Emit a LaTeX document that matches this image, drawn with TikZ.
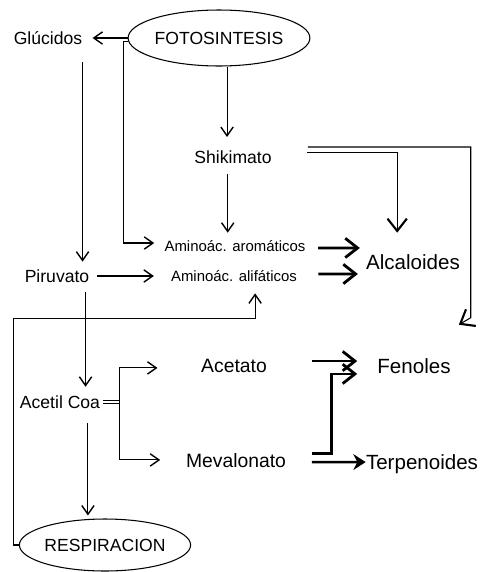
\documentclass[tikz,border=0pt]{standalone}
\usepackage{fontspec}
\setmainfont{Liberation Sans}
\usetikzlibrary{arrows.meta,shapes.geometric}

\begin{document}
\begin{tikzpicture}[x=0.02cm,y=-0.02cm,
    txt/.style={inner sep=0pt,font=\fontsize{10}{12}\selectfont},
    sml/.style={inner sep=0pt,font=\fontsize{8.5}{10}\selectfont},
    mid/.style={inner sep=0pt,font=\fontsize{11}{13}\selectfont},
    big/.style={inner sep=0pt,font=\fontsize{11.7}{14}\selectfont},
    oval/.style={draw,ellipse,inner sep=0pt,line width=0.6pt,font=\fontsize{10}{12}\selectfont},
    ln/.style={line width=0.6pt},
    ar/.style={ln,-{Straight Barb[length=5pt,width=7pt,line width=0.8pt]}},
    arr/.style={ln,{Straight Barb[length=5pt,width=7pt,line width=0.8pt]}-{Straight Barb[length=5pt,width=7pt,line width=0.8pt]}},
    bigar/.style={ln,-{Straight Barb[length=7pt,width=11pt,line width=1.2pt]}},
    thk/.style={line width=1.6pt,-{Straight Barb[length=7pt,width=11pt]}}]
   \useasboundingbox (0,0) rectangle (480,572);
   \node[oval,minimum width=2.76cm,minimum height=1.12cm] (fot) at (219,38) {FOTOSINTESIS};
   \node[txt] (glu) at (48,38) {Glúcidos};
   \node[txt] (shi) at (233,157) {Shikimato};
   \node[sml] (aro) at (235,246) {Aminoác. aromáticos};
   \node[sml] (ali) at (234,276) {Aminoác. alifáticos};
   \node[big] (alc) at (413,262) {Alcaloides};
   \node[txt] (pir) at (57,276) {Piruvato};
   \node[txt] (ace) at (60,402) {Acetil Coa};
   \node[mid] (act) at (234,366) {Acetato};
   \node[big] (fen) at (414,366) {Fenoles};
   \node[mid] (mev) at (236,461) {Mevalonato};
   \node[big] (ter) at (422,464) {Terpenoides};
   \node[oval,minimum width=2.7cm,minimum height=1.04cm] (res) at (105,545) {RESPIRACION};

   \draw[ar] (fot.west) -- ([xshift=5.7pt]glu.east);
   \draw[ar] ([yshift=-2pt]fot.west) -| ([xshift=-23pt,yshift=1.7pt]aro.west) -- ([xshift=-5.7pt,yshift=1.7pt]aro.west);
   \draw[ar] ([yshift=-10pt]glu.south east) -- ([yshift=4.3pt]pir.north -| glu.east);
   \draw[ar] ([xshift=-3.4pt]fot.south -| shi.north) -- ([xshift=-3.4pt,yshift=7.5pt]shi.north);
   \draw[ar] ([xshift=-3pt,yshift=-6pt]shi.south) -- ([xshift=-3pt,yshift=4.2pt]aro.north -| shi.south);
   \draw[bigar] ([xshift=20pt,yshift=2.3pt]shi.east) -| ([xshift=-9pt,yshift=12.2pt]alc.north);
   \draw[bigar] ([xshift=20.4pt,yshift=5.7pt]shi.east) -| ([xshift=11.3pt,yshift=23pt]fen.north east) -- ([xshift=4.5pt,yshift=19pt]fen.north east);
   \draw[thk] ([xshift=7pt,yshift=-1.1pt]aro.east) -- ([xshift=-3.4pt,yshift=8pt]alc.west);
   \draw[thk] ([xshift=12pt,yshift=1.1pt]ali.east) -- ([xshift=-4.5pt,yshift=-6.8pt]alc.west);
   \draw[ar] ([xshift=4.5pt]pir.east) -- ([xshift=-9.6pt]ali.west);
   \draw[ar] ([xshift=-2.3pt,yshift=-5.4pt]pir.south east) -- ([xshift=-2.3pt,yshift=4.8pt]ace.north -| pir.east);
   \draw[ar] ([xshift=15.9pt,yshift=-8.2pt]ace.south) -- ([xshift=15.9pt,yshift=1.7pt]ace.south |- res.north);
   \draw[ar] (res.west) -| ([yshift=-20.6pt]ali.south -| glu.west) -- ([xshift=12pt,yshift=-20.6pt]ali.south) -- ([xshift=12pt,yshift=-6.5pt]ali.south);
   \draw[ln] ([xshift=1.7pt,yshift=1.1pt]ace.east) -- ++(16,0);
   \draw[ln] ([xshift=1.7pt,yshift=-1.1pt]ace.east) -- ++(16,0);
   \draw[arr] ([xshift=-24.7pt,yshift=-1.1pt]act.west) -| ([xshift=10.8pt]ace.east) |- ([xshift=-14.5pt,yshift=0.6pt]mev.west);
   \draw[thk] ([xshift=25.5pt,yshift=2.8pt]act.east) -- ([xshift=-11.3pt,yshift=2.8pt]fen.west);
   \draw[thk] ([xshift=14.5pt,yshift=4.5pt]mev.east) -- ++(20,0) |- ([xshift=-11.3pt,yshift=-4.5pt]fen.west);
   \draw[line width=1.4pt,-{Stealth[length=7pt,width=9pt]}] ([xshift=14.5pt,yshift=-0.6pt]mev.east) -- ([yshift=1.1pt]ter.west);
\end{tikzpicture}
\end{document}
